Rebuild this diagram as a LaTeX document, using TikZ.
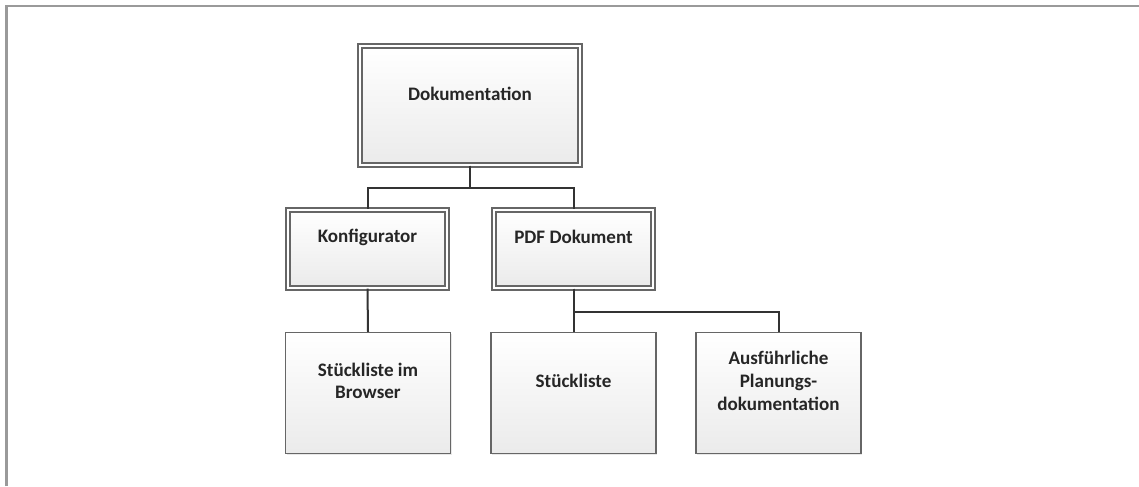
\documentclass[tikz,border=0pt]{standalone}
\usepackage{fontspec}
\setmainfont{Carlito}
\usetikzlibrary{positioning,shadows}
\definecolor{boxgray}{HTML}{666666}
\definecolor{framegray}{HTML}{9A9A9A}

\begin{document}
\begin{tikzpicture}[x=0.75pt, y=-0.75pt,
  every box/.style={draw=boxgray, top color=white, bottom color=gray!16,
    drop shadow={opacity=0.18, shadow xshift=1pt, shadow yshift=-1pt}},
  head box/.style={every box, double=white, line width=1pt, double distance=2pt},
  leaf box/.style={every box, line width=1.1pt, minimum width=123.75pt, minimum height=90.75pt},
  label text/.style={font=\fontsize{14.3}{17}\selectfont\bfseries, align=center, text=black!85},
  link/.style={draw=black!80, line width=1.5pt}]
\useasboundingbox (0,0) rectangle (1139,486);

% Draw the frame
\draw [framegray, line width=2pt] (6.5,486) -- (6.5,6) -- (1139,6);

% Draw top node
\node [head box, minimum width=165pt, minimum height=89.25pt] (doc) at (470,105.5) {};

% Draw middle nodes
\foreach \m/\x in {konf/367.5, pdf/573.5}
  \node [head box, minimum width=119.25pt, minimum height=58.5pt] (\m) at (\x,249) {};

% Draw bottom nodes
\foreach \m/\x in {browser/368, list/573.5, plan/778.5}
  \node [leaf box] (\m) at (\x,393) {};

% Label all nodes
\foreach \m/\l in {doc/Dokumentation, konf/Konfigurator, pdf/PDF Dokument,
    browser/{Stückliste im\\Browser}, list/Stückliste,
    plan/{Ausführliche\\Planungs-\\dokumentation}}
  \node [label text] (\m-text) at ([yshift=9pt]\m) {\l};

% Connect top node with middle nodes
\foreach \j in {konf, pdf}
  \draw [link] (doc.south) -- ++(0,22) -| (\j.north);

% Connect middle nodes with bottom nodes
\draw [link] (konf.south) -- (browser.north);
\foreach \j in {list, plan}
  \draw [link] (pdf.south) -- ++(0,23) -| (\j.north);
\end{tikzpicture}
\end{document}
